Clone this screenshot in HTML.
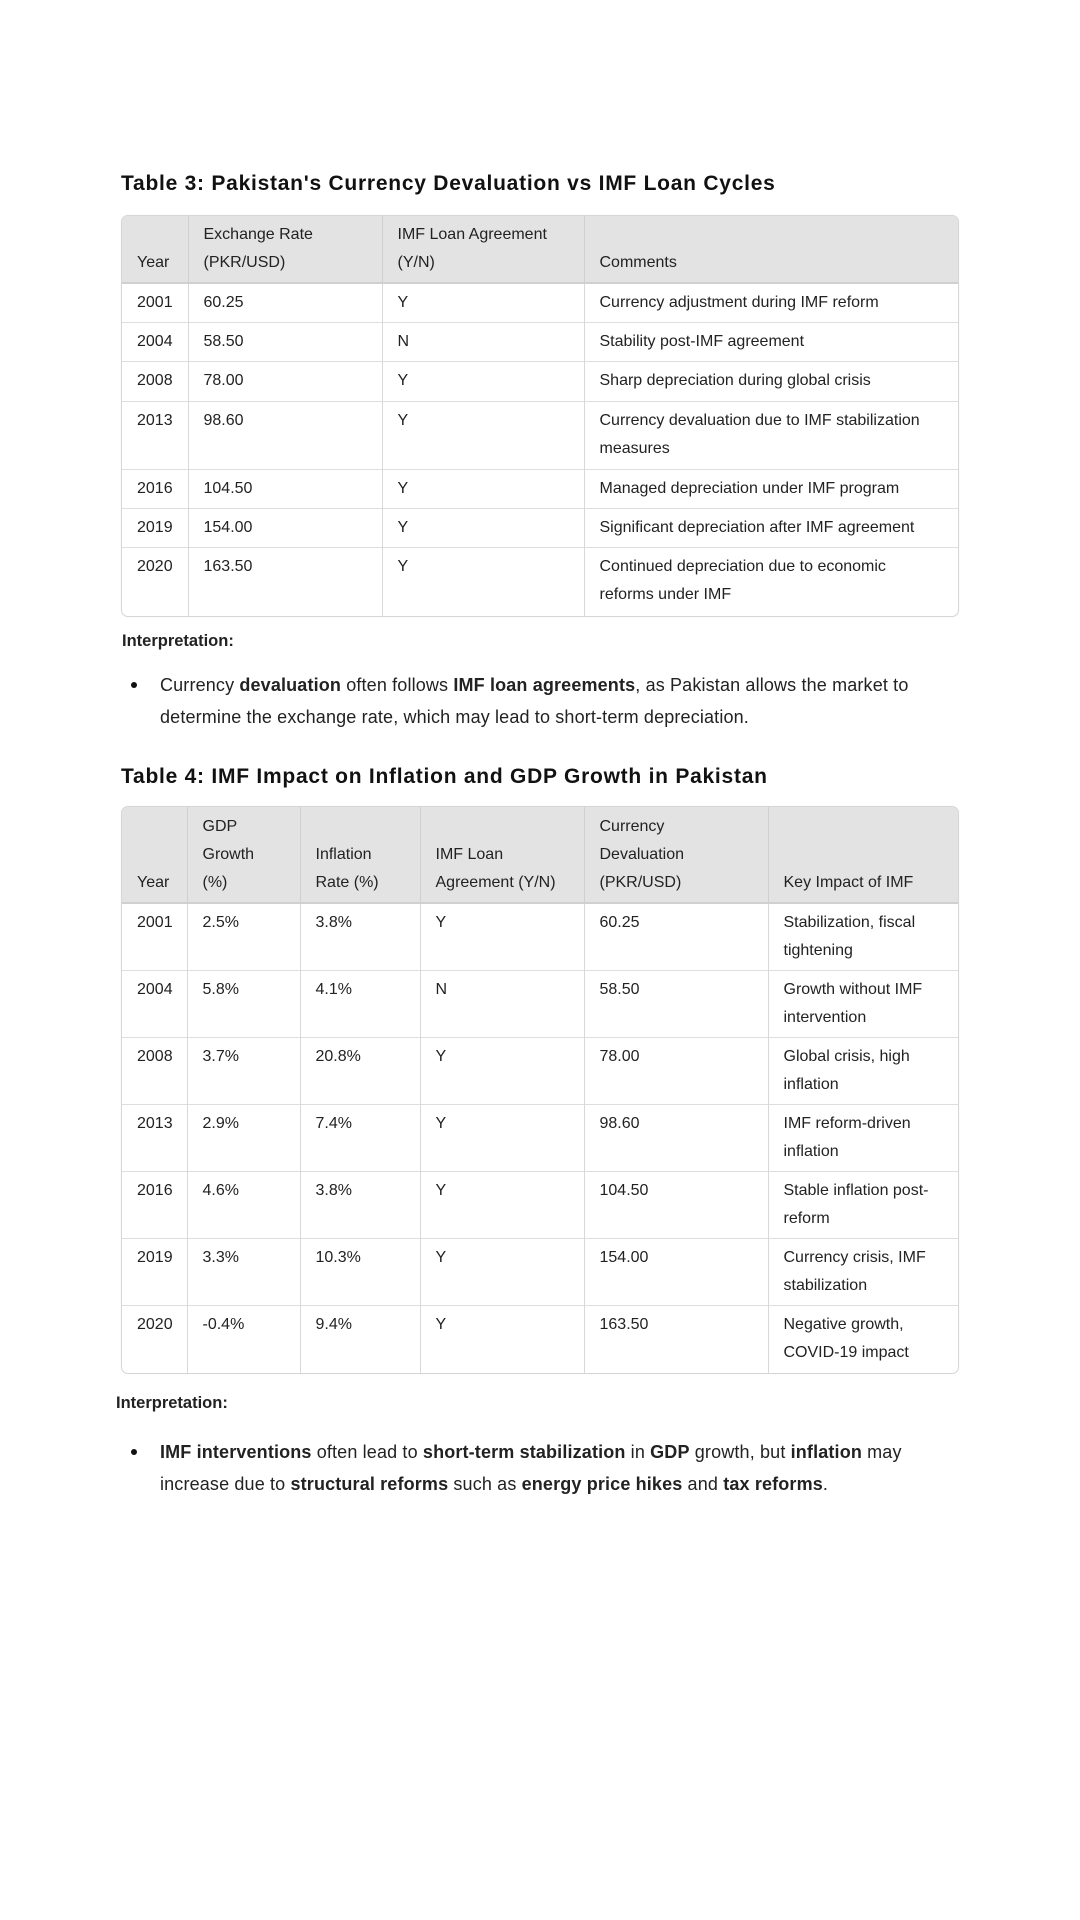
<!DOCTYPE html>
<html><head><meta charset="utf-8">
<style>
html,body{margin:0;padding:0;background:#fff;}
body{width:1080px;height:1920px;position:relative;font-family:"Liberation Sans",sans-serif;color:#1a1a1a;overflow:hidden;}
.title{position:absolute;left:121px;font-weight:bold;font-size:21px;letter-spacing:0.75px;color:#111;white-space:nowrap;}
.wrap{position:absolute;left:121px;width:836px;border:1px solid #d6d6d6;border-radius:7px;overflow:hidden;box-shadow:0 0 1px rgba(0,0,0,.08);}
table{border-collapse:collapse;table-layout:fixed;width:836px;font-size:16px;color:#222;}
th{background:#e3e3e3;font-weight:normal;text-align:left;vertical-align:bottom;padding:5px 15px 5px 15px;line-height:28px;border-right:1px solid #d0d0d0;border-bottom:2px solid #d0d0d0;white-space:nowrap;}
td{vertical-align:top;padding:5px 15px;line-height:28px;border-right:1px solid #d8d8d8;border-top:1px solid #dedede;white-space:nowrap;}
th:last-child,td:last-child{border-right:none;}
tr:nth-child(1) td{border-top:none;}
.interp{position:absolute;font-weight:bold;font-size:16.5px;color:#222;}
.bullet{position:absolute;left:160px;font-size:18px;letter-spacing:0.15px;line-height:32px;color:#222;white-space:nowrap;}
.bullet::before{content:"";position:absolute;left:-29px;top:13px;width:6px;height:6px;border-radius:50%;background:#111;}
.bullet b{font-weight:bold;}
</style></head>
<body>

<div class="title" style="top:172px">Table 3: Pakistan's Currency Devaluation vs IMF Loan Cycles</div>
<div class="wrap" style="top:215px">
<table>
<colgroup><col style="width:66px"><col style="width:194px"><col style="width:202px"><col style="width:374px"></colgroup>
<thead><tr style="height:67px">
<th>Year</th>
<th>Exchange Rate<br>(PKR/USD)</th>
<th>IMF Loan Agreement<br>(Y/N)</th>
<th>Comments</th></tr></thead>
<tbody>
<tr style="height:39px"><td>2001</td><td>60.25</td><td>Y</td><td>Currency adjustment during IMF reform</td></tr>
<tr style="height:39px"><td>2004</td><td>58.50</td><td>N</td><td>Stability post-IMF agreement</td></tr>
<tr style="height:40px"><td>2008</td><td>78.00</td><td>Y</td><td>Sharp depreciation during global crisis</td></tr>
<tr style="height:68px"><td>2013</td><td>98.60</td><td>Y</td><td>Currency devaluation due to IMF stabilization<br>measures</td></tr>
<tr style="height:38px"><td>2016</td><td>104.50</td><td>Y</td><td>Managed depreciation under IMF program</td></tr>
<tr style="height:39px"><td>2019</td><td>154.00</td><td>Y</td><td>Significant depreciation after IMF agreement</td></tr>
<tr style="height:68px"><td>2020</td><td>163.50</td><td>Y</td><td>Continued depreciation due to economic<br>reforms under IMF</td></tr>
</tbody></table></div>

<div class="interp" style="left:122px;top:632px">Interpretation:</div>
<div class="bullet" style="top:669px">Currency <b>devaluation</b> often follows <b>IMF loan agreements</b>, as Pakistan allows the market to<br>determine the exchange rate, which may lead to short-term depreciation.</div>

<div class="title" style="top:765px">Table 4: IMF Impact on Inflation and GDP Growth in Pakistan</div>
<div class="wrap" style="top:806px">
<table>
<colgroup><col style="width:65px"><col style="width:113px"><col style="width:120px"><col style="width:164px"><col style="width:184px"><col style="width:190px"></colgroup>
<thead><tr style="height:96px">
<th>Year</th>
<th>GDP<br>Growth<br>(%)</th>
<th>Inflation<br>Rate (%)</th>
<th>IMF Loan<br>Agreement (Y/N)</th>
<th>Currency<br>Devaluation<br>(PKR/USD)</th>
<th>Key Impact of IMF</th></tr></thead>
<tbody>
<tr style="height:67px"><td>2001</td><td>2.5%</td><td>3.8%</td><td>Y</td><td>60.25</td><td>Stabilization, fiscal<br>tightening</td></tr>
<tr style="height:67px"><td>2004</td><td>5.8%</td><td>4.1%</td><td>N</td><td>58.50</td><td>Growth without IMF<br>intervention</td></tr>
<tr style="height:67px"><td>2008</td><td>3.7%</td><td>20.8%</td><td>Y</td><td>78.00</td><td>Global crisis, high<br>inflation</td></tr>
<tr style="height:67px"><td>2013</td><td>2.9%</td><td>7.4%</td><td>Y</td><td>98.60</td><td>IMF reform-driven<br>inflation</td></tr>
<tr style="height:67px"><td>2016</td><td>4.6%</td><td>3.8%</td><td>Y</td><td>104.50</td><td>Stable inflation post-<br>reform</td></tr>
<tr style="height:67px"><td>2019</td><td>3.3%</td><td>10.3%</td><td>Y</td><td>154.00</td><td>Currency crisis, IMF<br>stabilization</td></tr>
<tr style="height:67px"><td>2020</td><td>-0.4%</td><td>9.4%</td><td>Y</td><td>163.50</td><td>Negative growth,<br>COVID-19 impact</td></tr>
</tbody></table></div>

<div class="interp" style="left:116px;top:1394px">Interpretation:</div>
<div class="bullet" style="top:1436px"><b>IMF interventions</b> often lead to <b>short-term stabilization</b> in <b>GDP</b> growth, but <b>inflation</b> may<br>increase due to <b>structural reforms</b> such as <b>energy price hikes</b> and <b>tax reforms</b>.</div>

</body></html>
